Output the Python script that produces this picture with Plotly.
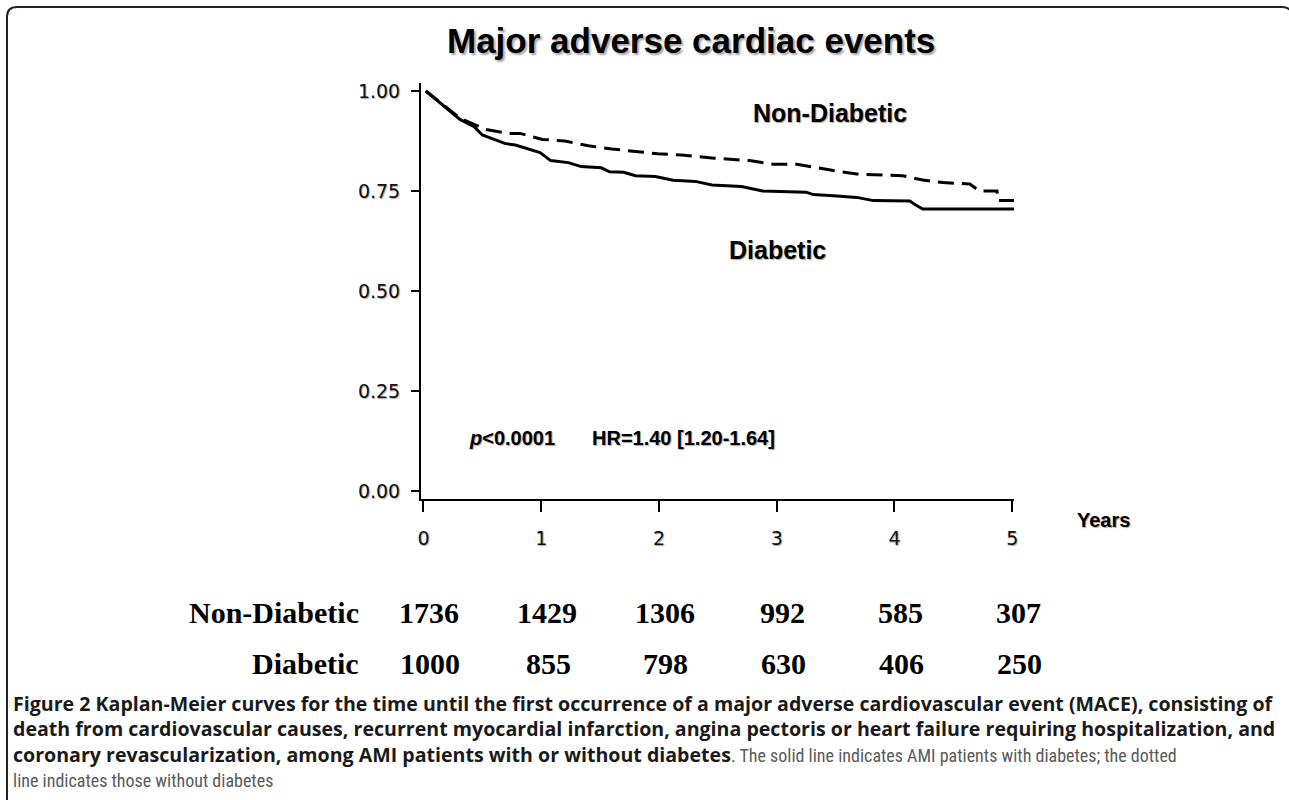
import plotly.graph_objects as go

# ---------------- data ----------------
years = [0, 1, 2, 3, 4, 5]
y_ticks = [0.0, 0.25, 0.5, 0.75, 1.0]
y_tick_labels = ["0.00", "0.25", "0.50", "0.75", "1.00"]

# Non-diabetic (dashed) Kaplan-Meier curve
non_t = [0.02, 0.31, 0.38, 0.53, 0.72, 0.82, 1.01, 1.20, 1.40, 1.60, 1.80, 1.99, 2.19,
         2.39, 2.47, 2.77, 2.97, 3.17, 3.28, 3.48, 3.68, 3.87, 4.07, 4.24, 4.41, 4.64,
         4.72, 4.87, 4.88, 5.02]
non_s = [1.0, 0.932, 0.923, 0.904, 0.894, 0.894, 0.879, 0.875, 0.863, 0.855, 0.849, 0.843,
         0.840, 0.833, 0.832, 0.826, 0.817, 0.817, 0.811, 0.801, 0.7925, 0.790, 0.788,
         0.7775, 0.771, 0.7675, 0.750, 0.750, 0.726, 0.726]

# Diabetic (solid) Kaplan-Meier curve
dia_t = [0.02, 0.31, 0.43, 0.50, 0.69, 0.78, 0.99, 1.08, 1.23, 1.34, 1.51, 1.58, 1.70,
         1.80, 1.97, 2.12, 2.31, 2.45, 2.70, 2.88, 3.25, 3.31, 3.48, 3.68, 3.82, 4.13,
         4.18, 4.24, 5.04]
dia_s = [1.0, 0.929, 0.911, 0.890, 0.869, 0.865, 0.846, 0.826, 0.821, 0.811, 0.808, 0.798,
         0.797, 0.788, 0.786, 0.777, 0.774, 0.765, 0.761, 0.750, 0.747, 0.741, 0.738,
         0.734, 0.726, 0.725, 0.715, 0.705, 0.705]

# Numbers at risk
at_risk_non = [1736, 1429, 1306, 992, 585, 307]
at_risk_dia = [1000, 855, 798, 630, 406, 250]

title_text = "Major adverse cardiac events"
B0 = '<span style="color:#1a1a1a"><b>'
B1 = '</b></span>'
R0 = ('<span style="font-family:\'Liberation Sans Narrow\',\'Roboto Condensed\','
      '\'DejaVu Sans Condensed\',Roboto,sans-serif;font-size:18px;color:#5a5a5a">')
R1 = '</span>'
caption_text = (
    B0 + "Figure 2 Kaplan-Meier curves for the time until the first occurrence of a major adverse cardiovascular event (MACE), consisting of" + B1 + "<br>"
    + B0 + "death from cardiovascular causes, recurrent myocardial infarction, angina pectoris or heart failure requiring hospitalization, and" + B1 + "<br>"
    + B0 + "coronary revascularization, among AMI patients with or without diabetes" + B1
    + R0 + ". The solid line indicates AMI patients with diabetes; the dotted" + R1 + "<br>"
    + R0 + "line indicates those without diabetes" + R1
)

# ---------------- layout helpers ----------------
W, H = 1289, 800
L, R, T, B = 421, 1014, 83, 499  # plot area in pixels


def pxx(x):
    return (x - L) / (R - L)


def pxy(y):
    return (B - y) / (B - T)


SANS = "Liberation Sans, Arial, sans-serif"
TICKF = "DejaVu Sans, Verdana, sans-serif"
SERIF = "Liberation Serif, Times New Roman, serif"
SH = "1px 1px 1px rgba(0,0,0,0.35)"

fig = go.Figure()
fig.add_trace(go.Scatter(x=non_t, y=non_s, mode="lines",
                         line=dict(color="black", width=3, dash="16px,8px"),
                         showlegend=False, hoverinfo="skip"))
fig.add_trace(go.Scatter(x=dia_t, y=dia_s, mode="lines",
                         line=dict(color="black", width=3),
                         showlegend=False, hoverinfo="skip"))

fig.update_layout(
    width=W, height=H,
    margin=dict(l=L, r=W - R, t=T, b=H - B, autoexpand=False),
    paper_bgcolor="white", plot_bgcolor="white", showlegend=False,
)
fig.update_xaxes(
    range=[-0.021, 5.015], tickvals=years, ticktext=[str(v) for v in years],
    showline=True, linecolor="black", linewidth=2, mirror=False,
    ticks="outside", ticklen=11, tickwidth=2, tickcolor="black",
    showgrid=False, zeroline=False, ticklabelstandoff=10,
    tickfont=dict(family=TICKF, size=19, color="#111", shadow=SH),
)
fig.update_yaxes(
    range=[-0.02, 1.02], tickvals=y_ticks, ticktext=y_tick_labels,
    showline=True, linecolor="black", linewidth=2, mirror=False,
    ticks="outside", ticklen=8, tickwidth=2, tickcolor="black",
    showgrid=False, zeroline=False, ticklabelstandoff=7,
    tickfont=dict(family=TICKF, size=19, color="#111", shadow=SH),
)

ann = []
# title
ann.append(dict(text=title_text, xref="paper", yref="paper", x=pxx(691), y=pxy(40),
                xanchor="center", yanchor="middle", showarrow=False,
                font=dict(family=SANS, size=35, color="black", weight="bold",
                          shadow="2px 2px 2px rgba(0,0,0,0.35)")))
# curve labels
ann.append(dict(text="Non-Diabetic", xref="paper", yref="paper", x=pxx(830), y=pxy(113),
                xanchor="center", yanchor="middle", showarrow=False,
                font=dict(family=SANS, size=25, color="black", weight="bold", shadow=SH)))
ann.append(dict(text="Diabetic", xref="paper", yref="paper", x=pxx(777), y=pxy(250),
                xanchor="center", yanchor="middle", showarrow=False,
                font=dict(family=SANS, size=25, color="black", weight="bold", shadow=SH)))
ann.append(dict(text="<i>p</i>&lt;0.0001", xref="paper", yref="paper", x=pxx(467), y=pxy(438),
                xanchor="left", yanchor="middle", showarrow=False,
                font=dict(family=SANS, size=20, color="black", weight="bold", shadow=SH)))
ann.append(dict(text="HR=1.40 [1.20-1.64]", xref="paper", yref="paper", x=pxx(590), y=pxy(438),
                xanchor="left", yanchor="middle", showarrow=False,
                font=dict(family=SANS, size=20, color="black", weight="bold", shadow=SH)))
ann.append(dict(text="Years", xref="paper", yref="paper", x=pxx(1075), y=pxy(520),
                xanchor="left", yanchor="middle", showarrow=False,
                font=dict(family=SANS, size=20, color="black", weight="bold", shadow=SH)))

# numbers at risk table
TF = dict(family=SERIF, size=30, color="black", weight="bold")
ann.append(dict(text="Non-Diabetic", xref="paper", yref="paper", x=pxx(361), y=pxy(612),
                xanchor="right", yanchor="middle", showarrow=False, font=TF))
ann.append(dict(text="Diabetic", xref="paper", yref="paper", x=pxx(361), y=pxy(663),
                xanchor="right", yanchor="middle", showarrow=False, font=TF))
for yr, n1, n2 in zip(years, at_risk_non, at_risk_dia):
    ann.append(dict(text=str(n1), xref="x", yref="paper", x=yr, xshift=6, y=pxy(612),
                    xanchor="center", yanchor="middle", showarrow=False, font=TF))
    ann.append(dict(text=str(n2), xref="x", yref="paper", x=yr, xshift=7, y=pxy(663),
                    xanchor="center", yanchor="middle", showarrow=False, font=TF))

# caption (single block so line spacing stays even)
ann.append(dict(text=caption_text, xref="paper", yref="paper", x=pxx(11), y=pxy(740),
                xanchor="left", yanchor="middle", align="left", showarrow=False,
                font=dict(family="Open Sans, sans-serif", size=19.6, color="#555")))
fig.update_layout(annotations=ann)

# rounded frame
frame = (f"M {pxx(7)},{pxy(810)} L {pxx(7)},{pxy(17)} Q {pxx(7)},{pxy(7)} {pxx(17)},{pxy(7)} "
         f"L {pxx(1282)},{pxy(7)} Q {pxx(1292)},{pxy(7)} {pxx(1292)},{pxy(17)} L {pxx(1292)},{pxy(810)}")
fig.add_shape(type="path", xref="paper", yref="paper", path=frame,
              line=dict(color="#222", width=2))

fig.write_html("out.html", config={"displayModeBar": False},
               post_script="document.body.style.margin='0';")
